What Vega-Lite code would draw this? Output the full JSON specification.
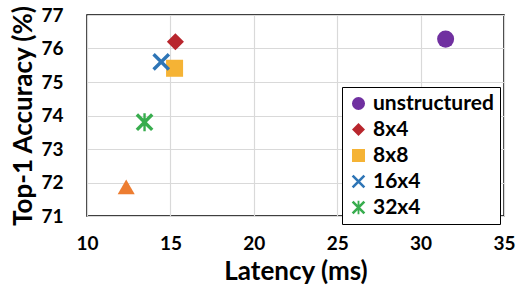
{
  "$schema": "https://vega.github.io/schema/vega-lite/v6.json",
  "width": 417,
  "height": 201,
  "autosize": "none",
  "padding": {"left": 87, "top": 15, "right": 14, "bottom": 69},
  "background": "white",
  "config": {
    "font": "Lato",
    "view": {"stroke": "black", "strokeWidth": 1.5},
    "axis": {"grid": true, "gridColor": "#d9d9d9", "gridWidth": 1.2, "domain": false, "ticks": false,
             "labelFont": "Lato", "labelFontWeight": "bold", "labelFontSize": 19, "labelColor": "black", "labelOverlap": false, "labelFlush": false,
             "titleFont": "Lato", "titleFontWeight": "bold", "titleFontSize": 26, "titleColor": "black"}
  },
  "data": {"values": [
    {"config": "unstructured", "latency": 31.5, "accuracy": 76.28},
    {"config": "8x4", "latency": 15.3, "accuracy": 76.2},
    {"config": "8x8", "latency": 15.25, "accuracy": 75.41},
    {"config": "16x4", "latency": 14.45, "accuracy": 75.6},
    {"config": "32x4", "latency": 13.45, "accuracy": 73.8},
    {"config": "unlabeled", "latency": 12.35, "accuracy": 71.87}
  ]},
  "encoding": {
    "x": {"field": "latency", "type": "quantitative",
          "scale": {"domain": [10, 35], "nice": false, "zero": false},
          "axis": {"values": [10, 15, 20, 25, 30, 35], "title": "Latency (ms)", "labelPadding": 18, "titlePadding": 5, "labelOverlap": false, "labelFlush": false}},
    "y": {"field": "accuracy", "type": "quantitative",
          "scale": {"domain": [71, 77], "nice": false, "zero": false},
          "axis": {"values": [71, 72, 73, 74, 75, 76, 77], "title": "Top-1 Accuracy (%)", "labelPadding": 24, "titlePadding": 4, "labelOverlap": false, "labelFlush": false}}
  },
  "layer": [
    {
      "transform": [{"filter": "datum.config !== 'unlabeled'"}],
      "mark": {"type": "point", "filled": true, "opacity": 1, "size": 290},
      "encoding": {
        "color": {"field": "config", "type": "nominal",
                  "scale": {"domain": ["unstructured", "8x4", "8x8", "16x4", "32x4"],
                            "range": ["#7030A0", "#B8262D", "#F5B335", "#2E75B6", "#38AD4E"]},
                  "legend": {"title": null, "orient": "none", "legendX": 255, "legendY": 72,
                             "strokeColor": "black", "fillColor": "white", "padding": 6,
                             "labelFont": "Lato", "labelFontWeight": "bold", "labelFontSize": 21, "labelColor": "black",
                             "symbolSize": 170, "rowPadding": 4, "labelOffset": 4, "symbolOpacity": 1,
                             "labelLimit": 200}},
        "shape": {"field": "config", "type": "nominal",
                  "scale": {"domain": ["unstructured", "8x4", "8x8", "16x4", "32x4"],
                            "range": ["circle", "diamond", "square",
                                      "M-0.76,-1.04L1.04,0.76L0.76,1.04L-1.04,-0.76ZM1.04,-0.76L-0.76,1.04L-1.04,0.76L0.76,-1.04Z",
                                      "M-0.76,-1.04L1.04,0.76L0.76,1.04L-1.04,-0.76ZM1.04,-0.76L-0.76,1.04L-1.04,0.76L0.76,-1.04ZM-0.14,-1.05L0.14,-1.05L0.14,1.05L-0.14,1.05Z"]},
                  "legend": {"title": null, "orient": "none", "legendX": 255, "legendY": 72}}
      }
    },
    {
      "transform": [{"filter": "datum.config === 'unlabeled'"}],
      "mark": {"type": "point", "filled": true, "opacity": 1, "size": 290, "shape": "triangle-up", "color": "#ED7D31"},
      "encoding": {}
    }
  ]
}
